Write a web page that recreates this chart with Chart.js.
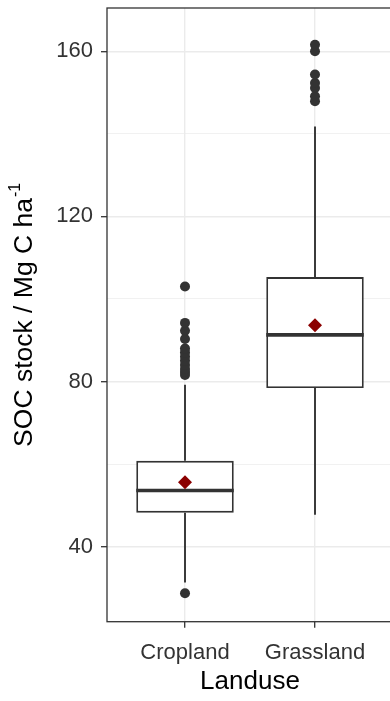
<!DOCTYPE html>
<html>
<head>
<meta charset="utf-8">
<script src="https://cdn.jsdelivr.net/npm/chart.js@4"></script>
<style>
  html, body { margin:0; padding:0; background:#fff; overflow:hidden; }
  #wrap { width:400px; height:701px; }
</style>
</head>
<body>
<div id="wrap"><canvas id="box" width="400" height="701"></canvas></div>
<script>
// summary stats (SOC stock, Mg C / ha)
const landuse = ['Cropland', 'Grassland'];
const q1 = [48.2, 78.4];
const median = [53.6, 91.3];
const q3 = [60.8, 105.3];
const whiskerLow = [31.3, 47.7];
const whiskerHigh = [79.2, 141.8];
const means = [55.6, 93.6];
const outliersCropland = [28.7, 81.6, 82.3, 83.0, 84.0, 85.0, 86.0, 87.0, 88.0, 90.3, 92.3, 94.2, 103.0];
const outliersGrassland = [147.9, 149.1, 151.1, 152.3, 154.4, 160.0, 161.6];
const yMajor = [40, 80, 120, 160];
const yMinor = [60, 100, 140];

const dark = '#333333';
const gridCol = '#ebebeb';
const font = 'Arial, "Liberation Sans", sans-serif';

const boxData = landuse.map((_, i) => ({x: i + 1, y: [q1[i], q3[i]]}));
const meanData = landuse.map((_, i) => ({x: i + 1, y: means[i]}));
const outlierData = outliersCropland.map(v => ({x: 1, y: v}))
  .concat(outliersGrassland.map(v => ({x: 2, y: v})));

// whiskers + median lines, drawn right after the boxes
const boxLines = {
  id: 'boxLines',
  afterDatasetDraw(chart, args){
    if(args.index !== 0) return;
    const {ctx, scales:{x, y}} = chart;
    ctx.save();
    ctx.strokeStyle = dark;
    ctx.lineCap = 'butt';
    landuse.forEach((_, i) => {
      const cx = x.getPixelForValue(i + 1);
      ctx.lineWidth = 1.9;
      ctx.beginPath();
      ctx.moveTo(cx, y.getPixelForValue(q3[i]));
      ctx.lineTo(cx, y.getPixelForValue(whiskerHigh[i]));
      ctx.moveTo(cx, y.getPixelForValue(q1[i]));
      ctx.lineTo(cx, y.getPixelForValue(whiskerLow[i]));
      ctx.stroke();
      ctx.lineWidth = 3.6;
      const my = y.getPixelForValue(median[i]);
      ctx.beginPath();
      ctx.moveTo(x.getPixelForValue(i + 1 - 0.375), my);
      ctx.lineTo(x.getPixelForValue(i + 1 + 0.375), my);
      ctx.stroke();
    });
    ctx.restore();
  }
};

// panel border and y title with superscript
const panel = {
  id: 'panel',
  afterDraw(chart){
    const {ctx, chartArea:a} = chart;
    ctx.save();
    ctx.strokeStyle = dark;
    ctx.lineWidth = 1.3;
    ctx.strokeRect(a.left, a.top, a.right - a.left, a.bottom - a.top);

    const main = 'SOC stock / Mg C ha';
    const sup = '-1';
    ctx.font = '26.5px ' + font;
    const w = ctx.measureText(main).width;
    ctx.font = '16px ' + font;
    const ws = ctx.measureText(sup).width;
    const total = w + 1 + ws;
    const mid = (a.top + a.bottom) / 2;

    ctx.fillStyle = '#000';
    ctx.translate(25, mid + total / 2);
    ctx.rotate(-Math.PI / 2);
    ctx.textBaseline = 'middle';
    ctx.textAlign = 'left';
    ctx.font = '26.5px ' + font;
    ctx.fillText(main, 0, 0);
    ctx.font = '16px ' + font;
    ctx.fillText(sup, w + 1, -9);
    ctx.restore();
  }
};

new Chart(document.getElementById('box'), {
  type: 'bar',
  data: {
    datasets: [
      {
        type: 'bar',
        data: boxData,
        backgroundColor: '#ffffff',
        borderColor: dark,
        borderWidth: 1.9,
        borderSkipped: false,
        categoryPercentage: 1,
        barPercentage: 0.75,
        order: 3
      },
      {
        type: 'scatter',
        data: outlierData,
        pointRadius: 5,
        pointBackgroundColor: dark,
        pointBorderWidth: 0,
        order: 2
      },
      {
        type: 'scatter',
        data: meanData,
        pointStyle: 'rectRot',
        pointRadius: 7,
        pointBackgroundColor: '#8b0000',
        pointBorderWidth: 0,
        order: 1
      }
    ]
  },
  options: {
    responsive: false,
    animation: false,
    layout: {padding: {left: 0, top: 8, right: 6, bottom: 0}},
    plugins: {legend: {display: false}, tooltip: {enabled: false}},
    scales: {
      x: {
        type: 'linear',
        min: 0.4,
        max: 2.6,
        offset: false,
        afterBuildTicks(s){ s.ticks = landuse.map((_, i) => ({value: i + 1})); },
        afterFit(s){ s.height = 79.3; s.paddingLeft = 0; s.paddingRight = 0; },
        ticks: {
          callback: v => landuse[v - 1],
          color: '#333',
          font: {family: font, size: 22},
          padding: 12,
          maxRotation: 0
        },
        grid: {offset: false, color: gridCol, lineWidth: 1.4, tickColor: dark, tickLength: 6, tickWidth: 1.3},
        border: {display: false},
        title: {display: true, text: 'Landuse', color: '#000', font: {family: font, size: 26}, padding: {top: 0, bottom: 4}}
      },
      y: {
        min: 21.8,
        max: 170.5,
        afterBuildTicks(s){ s.ticks = yMajor.concat(yMinor).sort((a, b) => a - b).map(v => ({value: v})); },
        afterFit(s){ s.width = 107; s.paddingTop = 0; s.paddingBottom = 0; },
        ticks: {
          callback: v => yMajor.includes(v) ? String(v) : '',
          color: '#333',
          font: {family: font, size: 22},
          padding: 8
        },
        grid: {
          color: gridCol,
          lineWidth: c => yMajor.includes(c.tick.value) ? 1.4 : 0.7,
          tickColor: c => yMajor.includes(c.tick.value) ? dark : 'rgba(0,0,0,0)',
          tickLength: 6,
          tickWidth: 1.3
        },
        border: {display: false}
      }
    }
  },
  plugins: [boxLines, panel]
});
</script>
</body>
</html>
